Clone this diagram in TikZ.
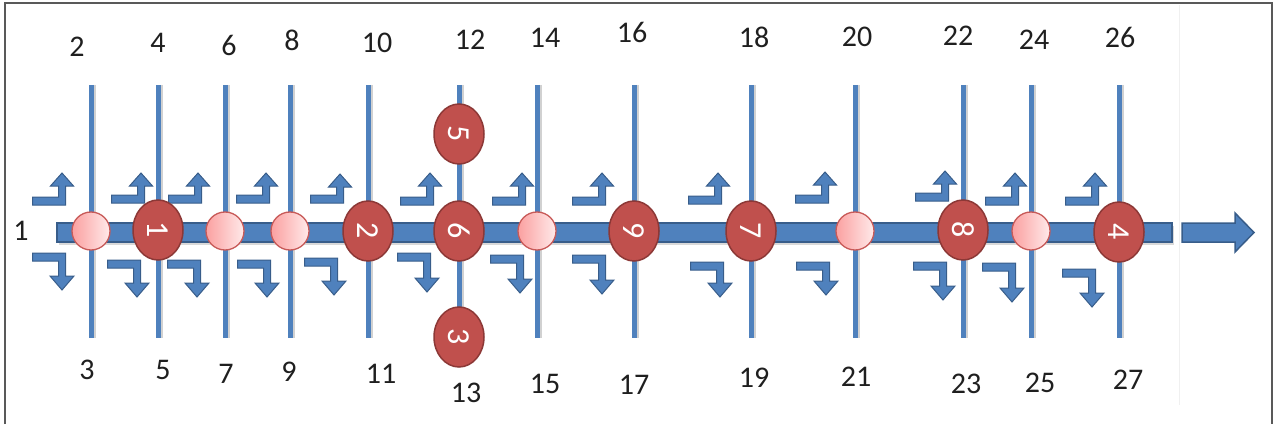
\documentclass[tikz,border=0pt]{standalone}
\usepackage{fontspec}
\setmainfont{Carlito}
\usetikzlibrary{shapes.geometric}
\definecolor{blu}{HTML}{4F81BD}
\definecolor{bludk}{HTML}{385D8A}
\definecolor{rd}{HTML}{C0504D}
\definecolor{rddk}{HTML}{8C3836}
\definecolor{pinkA}{HTML}{FBA0A0}
\definecolor{pinkB}{HTML}{FFEAEA}
\definecolor{pinkbd}{HTML}{C85A58}
\tikzset{
  road/.style={blu, line width=5pt},
  roadshadow/.style={black!18, line width=4pt},
  redstop/.style={ellipse, draw=rddk, line width=1.5pt, fill=rd, rotate=-90,
    minimum width=60pt, minimum height=50pt, inner sep=0pt, text=white,
    font=\fontsize{32}{32}\selectfont},
  pinkstop/.style={circle, draw=pinkbd, line width=1.3pt, left color=pinkA,
    right color=pinkB, minimum size=38pt, inner sep=0pt},
  lbl/.style={font=\fontsize{30}{30}\selectfont, text=black!88, inner sep=0pt},
  turn/.style={fill=blu, draw=bludk, line width=1pt, line join=miter},
  frame/.style={black!65, line width=1.2pt},
}
% upper turn arrow: shaft centre xc, bar bottom yb, tip ty
\newcommand\turnup[3]{%
  \draw[turn] ({#1+3.5-33},#2) -- ({#1+3.5},#2) -- ({#1+3.5},{#3+13})
    -- ({#1+11.5},{#3+13}) -- (#1,#3) -- ({#1-11.5},{#3+13})
    -- ({#1-3.5},{#3+13}) -- ({#1-3.5},{#2-8}) -- ({#1+3.5-33},{#2-8}) -- cycle;}
% lower turn arrow: shaft centre xc, bar top yt, tip ty
\newcommand\turndown[3]{%
  \draw[turn] ({#1+3.5-33},#2) -- ({#1+3.5},#2) -- ({#1+3.5},{#3-14})
    -- ({#1+12},{#3-14}) -- (#1,#3) -- ({#1-12},{#3-14})
    -- ({#1-3.5},{#3-14}) -- ({#1-3.5},{#2+8}) -- ({#1+3.5-33},{#2+8}) -- cycle;}
\begin{document}
\begin{tikzpicture}[x=1pt, y=-1pt]
\useasboundingbox (0,0) rectangle (1273,425);
% frame
\coordinate (fbl) at (5,424);
\coordinate (ftl) at (5,3);
\coordinate (ftr) at (1272,3);
\coordinate (fbr) at (1272,424);
\draw[frame] (fbl) -- (ftl) -- (ftr) -- (fbr);
\coordinate (gt) at (1179,5);
\coordinate (gb) at (1179,405);
\draw[black!6, line width=0.8pt] (gt) -- (gb);
% vertical roads
\foreach \x/\n in {91/a,158/b,225/c,290/d,368/e,459/f,537/g,634/h,751/i,855/j,963/k,1031/l,1119/m}{
  \coordinate (t\n) at (\x,85);
  \coordinate (b\n) at (\x,338);
  \draw[roadshadow] ([xshift=2.5pt]t\n) -- ([xshift=2.5pt]b\n);
  \draw[road] (t\n) -- (b\n);
}
% main road
\fill[black!15] (59,226) rectangle (1174,245);
\draw[bludk, fill=blu, line width=1.5pt] (57,223) rectangle (1172,242);
% direction arrow
\draw[bludk, fill=blu, line width=1.5pt, line join=miter] (1182,223) -- (1235,223) -- (1235,213)
  -- (1254,232.5) -- (1235,252) -- (1235,242) -- (1182,242) -- cycle;
% turn arrows
\turnup{62}{205}{173}
\turnup{141}{203}{173}
\turnup{198}{203}{173}
\turnup{266}{203}{173}
\turnup{340}{203}{174}
\turnup{430}{205}{173}
\turnup{522}{205}{173}
\turnup{602}{205}{173}
\turnup{718}{204}{173}
\turnup{825}{203}{172}
\turnup{945}{201}{171}
\turnup{1015}{205}{173}
\turnup{1095}{205}{173}
\turndown{62}{253}{290}
\turndown{137}{260}{297}
\turndown{197}{260}{297}
\turndown{267}{260}{297}
\turndown{334}{258}{295}
\turndown{427}{253}{292}
\turndown{520}{255}{293}
\turndown{602}{255}{294}
\turndown{720}{262}{297}
\turndown{826}{262}{295}
\turndown{943}{262}{300}
\turndown{1012}{263}{302}
\turndown{1092}{269}{307}
% pink junctions
\node[pinkstop] (pa) at (91,231) {};
\node[pinkstop] (pc) at (225,231) {};
\node[pinkstop] (pd) at (290,231) {};
\node[pinkstop] (pg) at (537,231) {};
\node[pinkstop] (pj) at (855,231) {};
\node[pinkstop] (pl) at (1031,231) {};
% red stops
\node[redstop] (s1) at (158,230) {1};
\node[redstop] (s2) at (368,231) {2};
\node[redstop] (s6) at (459,231) {6};
\node[redstop] (s9) at (634,231) {9};
\node[redstop] (s7) at (751,231) {7};
\node[redstop] (s8) at (963,230) {8};
\node[redstop] (s4) at (1119,232) {4};
\node[redstop] (s5) at (459,134) {5};
\node[redstop] (s3) at (459,337) {3};
% labels
\node[lbl] (l1) at (21,231) {1};
\node[lbl] (l2) at (77,47) {2};
\node[lbl] (l4) at (158,43) {4};
\node[lbl] (l6) at (229,45) {6};
\node[lbl] (l8) at (292,40) {8};
\node[lbl] (l10) at (377,43) {10};
\node[lbl] (l12) at (470,40) {12};
\node[lbl] (l14) at (545,38) {14};
\node[lbl] (l16) at (632,32) {16};
\node[lbl] (l18) at (754,37) {18};
\node[lbl] (l20) at (857,37) {20};
\node[lbl] (l22) at (958,36) {22};
\node[lbl] (l24) at (1034,40) {24};
\node[lbl] (l26) at (1120,37) {26};
\node[lbl] (l3) at (87,370) {3};
\node[lbl] (l5) at (163,370) {5};
\node[lbl] (l7) at (226,374) {7};
\node[lbl] (l9) at (289,372) {9};
\node[lbl] (l11) at (381,374) {11};
\node[lbl] (l13) at (466,393) {13};
\node[lbl] (l15) at (545,384) {15};
\node[lbl] (l17) at (634,385) {17};
\node[lbl] (l19) at (754,378) {19};
\node[lbl] (l21) at (856,377) {21};
\node[lbl] (l23) at (966,384) {23};
\node[lbl] (l25) at (1040,383) {25};
\node[lbl] (l27) at (1128,380) {27};
\end{tikzpicture}
\end{document}
